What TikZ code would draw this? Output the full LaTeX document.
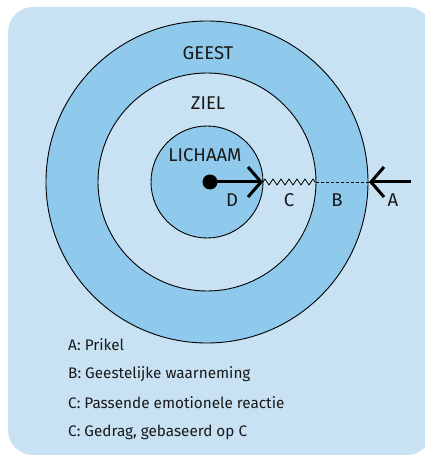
\documentclass[tikz,border=0pt]{standalone}
\usepackage{fontspec}
\setmainfont{Fira Sans}
\usetikzlibrary{arrows.meta,decorations.pathmorphing}
\definecolor{lichtblauw}{RGB}{200,226,244}
\definecolor{donkerblauw}{RGB}{143,201,236}
\tikzset{
  ring/.style={draw=black,line width=0.9pt},
  laag/.style={font=\fontsize{18.5}{22}\selectfont,text=black!90},
  legenda/.style={font=\fontsize{15.3}{18}\selectfont,text=black!90,anchor=west,inner sep=0pt},
  pijl/.style={line width=3pt,-{Straight Barb[length=13pt,width=30pt]}}
}
\begin{document}
\begin{tikzpicture}[x=1pt,y=1pt]
  \useasboundingbox (0,0) rectangle (425,456);
  \begin{scope}
    \clip (0,0) rectangle (425,456);
    \fill[lichtblauw,rounded corners=25pt] (8,1) rectangle (432,449);
  \end{scope}

  % drie lagen
  \draw[ring,fill=donkerblauw] (207,274) circle (161);
  \draw[ring,fill=lichtblauw] (207,274) circle (109);
  \draw[ring,fill=donkerblauw] (207,274) circle (56);

  \node[laag] (geest) at (208,403) {GEEST};
  \node[laag] (ziel) at (208,353) {ZIEL};
  \node[laag] (lichaam) at (205,301) {LICHAAM};

  % de weg van de prikkel
  \node[circle,fill=black,inner sep=0pt,minimum size=15pt] (kern) at (210,274) {};
  \coordinate (lichaamrand) at (263,274);
  \coordinate (zielrand) at (316,274);
  \coordinate (geestrand) at (369,274);
  \coordinate (buiten) at (411,274);

  \draw[pijl] (kern.center) -- (lichaamrand);
  \draw[line width=0.8pt,decorate,decoration={zigzag,amplitude=3pt,segment length=8pt}] (lichaamrand) -- (zielrand);
  \draw[line width=0.8pt,dash pattern=on 3pt off 2pt] (zielrand) -- (geestrand);
  \draw[pijl] (buiten) -- (geestrand);

  \node[laag] (d) at (232,256) {D};
  \node[laag] (c) at (289,256) {C};
  \node[laag] (b) at (337,256) {B};
  \node[laag] (a) at (393,256) {A};

  % legenda
  \node[legenda] (la) at (68,111) {A: Prikel};
  \node[legenda] (lb) at (68,82) {B: Geestelijke waarneming};
  \node[legenda] (lc) at (68,53) {C: Passende emotionele reactie};
  \node[legenda] (ld) at (68,24) {C: Gedrag, gebaseerd op C};
\end{tikzpicture}
\end{document}
